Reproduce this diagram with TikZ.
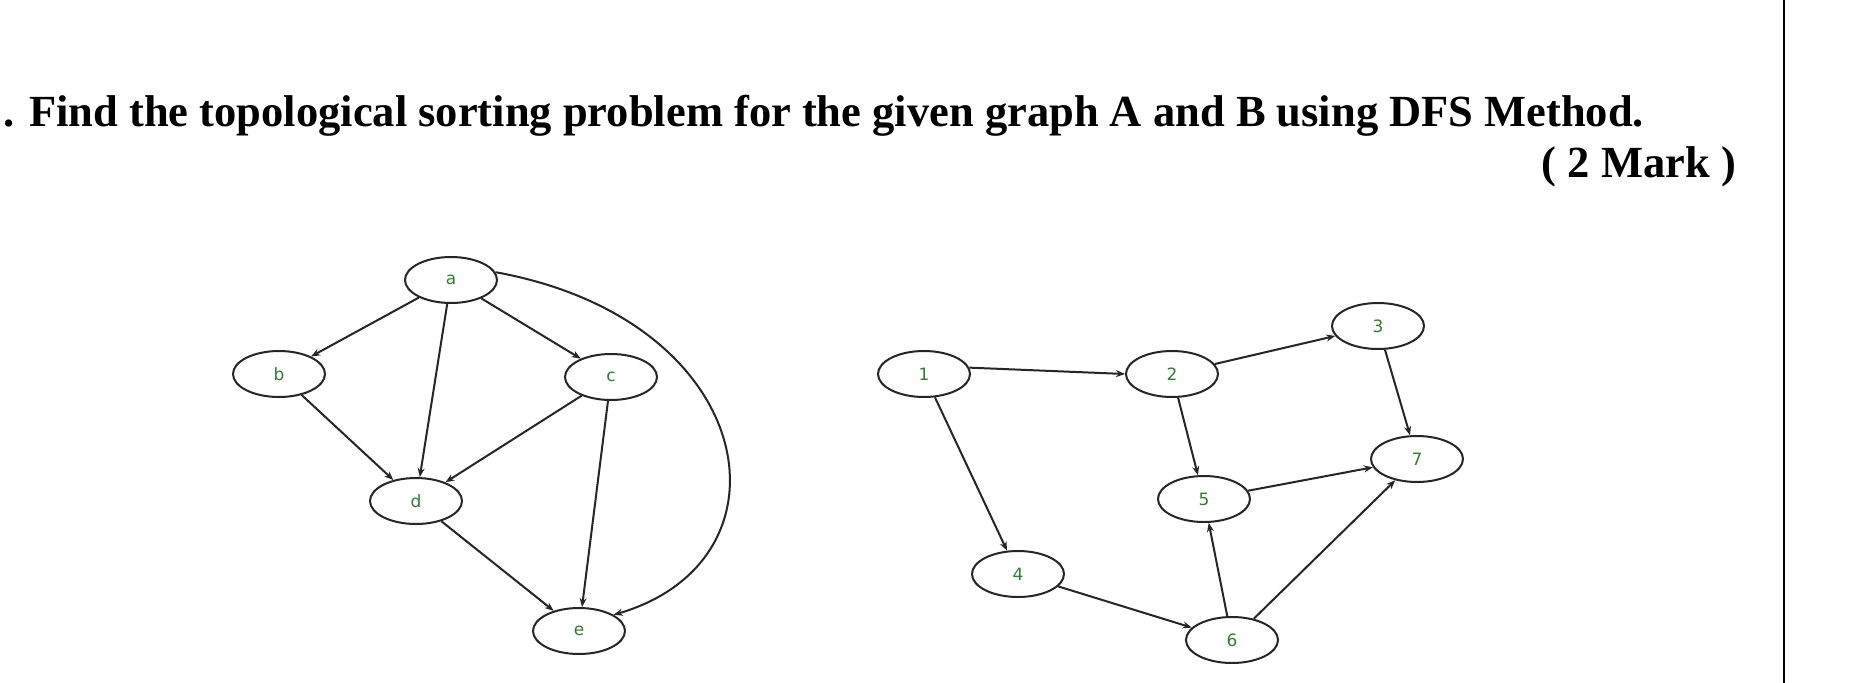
\documentclass[tikz,border=0pt]{standalone}
\usepackage{fontspec}
\setmainfont{Liberation Serif}
\newfontfamily\labelfont{DejaVu Sans}
\usetikzlibrary{shapes.geometric,arrows.meta}
\definecolor{lblgreen}{RGB}{50,125,50}
\begin{document}
\begin{tikzpicture}[x=1pt,y=-1pt,
  vtx/.style={draw=black!85,line width=2pt,ellipse,minimum width=92pt,minimum height=46pt,inner sep=0pt,
    font=\labelfont\fontsize{17}{17}\selectfont,text=lblgreen},
  edge/.style={draw=black!85,line width=2pt,-{Stealth[length=9pt,width=7pt]}},
  titletext/.style={font=\bfseries\fontsize{44.5}{50}\selectfont,inner sep=0pt}]
\useasboundingbox (0,0) rectangle (1875,683);
\fill[white] (0,0) rectangle (1875,683);
% title
\node[titletext,anchor=base west] (title) at (3,126) {. Find the topological sorting problem for the given graph A and B using DFS Method.};
\node[titletext,anchor=base east] (mark) at (1736,177) {( 2 Mark )};
% right border
\coordinate (vt) at (1784,0);
\coordinate (vb) at (1784,683);
\draw[line width=2pt] (vt) -- (vb);
% graph A
\node[vtx] (a) at (451,280) {a};
\node[vtx] (b) at (279,374) {b};
\node[vtx] (c) at (611,377) {c};
\node[vtx] (d) at (416,501) {d};
\node[vtx] (e) at (579,631) {e};
\draw[edge] (a) -- (b);
\draw[edge] (a) -- (c);
\draw[edge] (a) -- (d);
\draw[edge] (b) -- (d);
\draw[edge] (c) -- (d);
\draw[edge] (c) -- (e);
\draw[edge] (d) -- (e);
\draw[edge] (a.10) .. controls (760,320) and (800,560) .. (e.25);
% graph B
\node[vtx] (n1) at (924,374) {1};
\node[vtx] (n2) at (1172,374) {2};
\node[vtx] (n3) at (1378,326) {3};
\node[vtx] (n7) at (1417,459) {7};
\node[vtx] (n5) at (1204,499) {5};
\node[vtx] (n4) at (1018,574) {4};
\node[vtx] (n6) at (1232,640) {6};
\draw[edge] (n1.8) -- (n2.180);
\draw[edge] (n1) -- (n4);
\draw[edge] (n2) -- (n3);
\draw[edge] (n2) -- (n5);
\draw[edge] (n3) -- (n7);
\draw[edge] (n5) -- (n7);
\draw[edge] (n4) -- (n6);
\draw[edge] (n6) -- (n5);
\draw[edge] (n6) -- (n7);
\end{tikzpicture}
\end{document}
